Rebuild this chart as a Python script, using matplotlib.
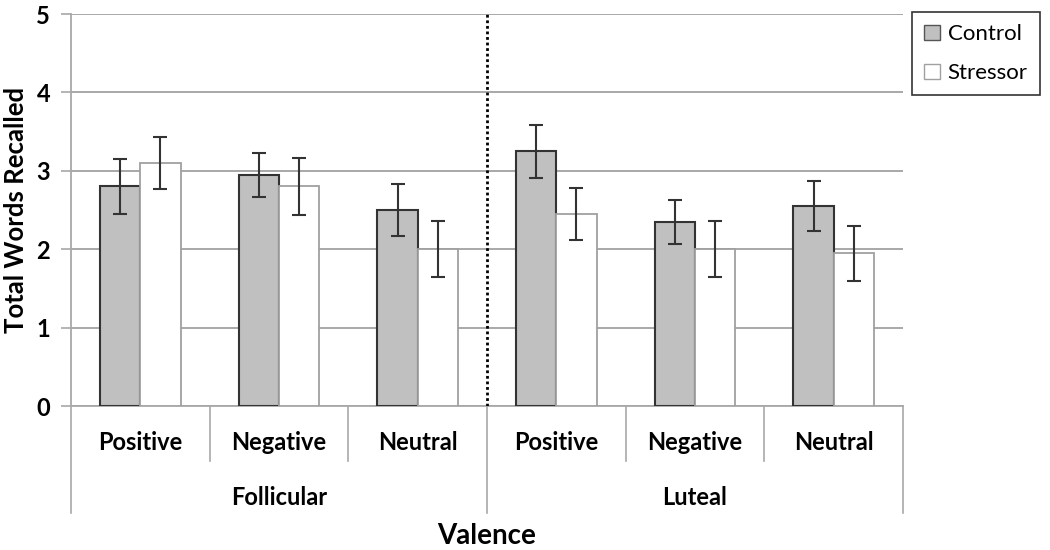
import matplotlib
matplotlib.use("Agg")
import matplotlib.pyplot as plt
from matplotlib.patches import Patch
from matplotlib.lines import Line2D
import numpy as np

plt.rcParams['font.family'] = ['Lato', 'DejaVu Sans']

valence = ["Positive", "Negative", "Neutral", "Positive", "Negative", "Neutral"]
phases = ["Follicular", "Luteal"]
control = [2.80, 2.95, 2.50, 3.25, 2.35, 2.55]
control_err = [0.35, 0.28, 0.33, 0.34, 0.28, 0.32]
stressor = [3.10, 2.80, 2.00, 2.45, 2.00, 1.95]
stressor_err = [0.33, 0.36, 0.36, 0.33, 0.36, 0.35]
yticks = [0, 1, 2, 3, 4, 5]

fig = plt.figure(figsize=(10.5, 5.5), dpi=100)
ax = fig.add_axes([0.0676, 0.2618, 0.7924, 0.7127])

x = np.arange(len(valence))
w = 0.29
ax.bar(x - w / 2, control, w, color="#c0c0c0", edgecolor="#333333", linewidth=1.5, zorder=3)
ax.bar(x + w / 2, stressor, w, color="white", edgecolor="#a0a0a0", linewidth=1.3, zorder=3)
ax.errorbar(x - w / 2, control, yerr=control_err, fmt="none", ecolor="#333333",
            elinewidth=1.5, capsize=5, capthick=1.5, zorder=4)
ax.errorbar(x + w / 2, stressor, yerr=stressor_err, fmt="none", ecolor="#333333",
            elinewidth=1.5, capsize=5, capthick=1.5, zorder=4)

ax.set_xlim(-0.5, len(valence) - 0.5)
ax.set_ylim(0, 5)
ax.set_yticks(yticks)
ax.set_yticklabels([str(t) for t in yticks], fontsize=17, fontweight="bold")
ax.yaxis.grid(True, color="#a8a8a8", linewidth=1.4, zorder=0)
ax.set_axisbelow(True)
ax.tick_params(axis="y", length=7, color="#a8a8a8", width=1.2, pad=8)
ax.set_xticks([])
for s in ["top", "right"]:
    ax.spines[s].set_visible(False)
for s in ["left", "bottom"]:
    ax.spines[s].set_color("#a8a8a8")
    ax.spines[s].set_linewidth(1.3)

# dotted divider between phases
ax.axvline(2.5, color="black", linestyle=(0, (1, 1)), linewidth=2, zorder=5)

ax.set_ylabel("Total Words Recalled", fontsize=18.5, fontweight="bold", labelpad=6)

# two-level category axis
trans = ax.get_xaxis_transform()
H = 0.7127 * 550  # axes height px
def yax(px):
    return -px / H

for i, lab in enumerate(valence):
    ax.text(i, yax(36), lab, transform=trans, ha="center", va="center",
            fontsize=17, fontweight="bold")
for b in [0.5, 1.5, 3.5, 4.5]:
    ax.add_line(Line2D([b, b], [0, yax(55)], transform=trans, color="#a8a8a8",
                       linewidth=1.2, clip_on=False))
for b in [-0.5, 2.5, 5.5]:
    ax.add_line(Line2D([b, b], [0, yax(107)], transform=trans, color="#a8a8a8",
                       linewidth=1.2, clip_on=False))
for j, ph in enumerate(phases):
    ax.text(1 + 3 * j, yax(91), ph, transform=trans, ha="center", va="center",
            fontsize=17, fontweight="bold")
ax.text(2.5, yax(130), "Valence", transform=trans, ha="center", va="center",
        fontsize=20, fontweight="bold")

handles = [Patch(facecolor="#c0c0c0", edgecolor="#555555", label="Control"),
           Patch(facecolor="white", edgecolor="#a0a0a0", label="Stressor")]
leg = fig.legend(handles=handles, loc="upper left", bbox_to_anchor=(0.8686, 0.978),
                 fontsize=16, frameon=True, fancybox=False, edgecolor="black",
                 handlelength=0.7, handleheight=0.7, handletextpad=0.35,
                 labelspacing=0.85, borderpad=0.55, borderaxespad=0)
leg.get_frame().set_linewidth(1.2)

fig.savefig("out.png", dpi=100)
